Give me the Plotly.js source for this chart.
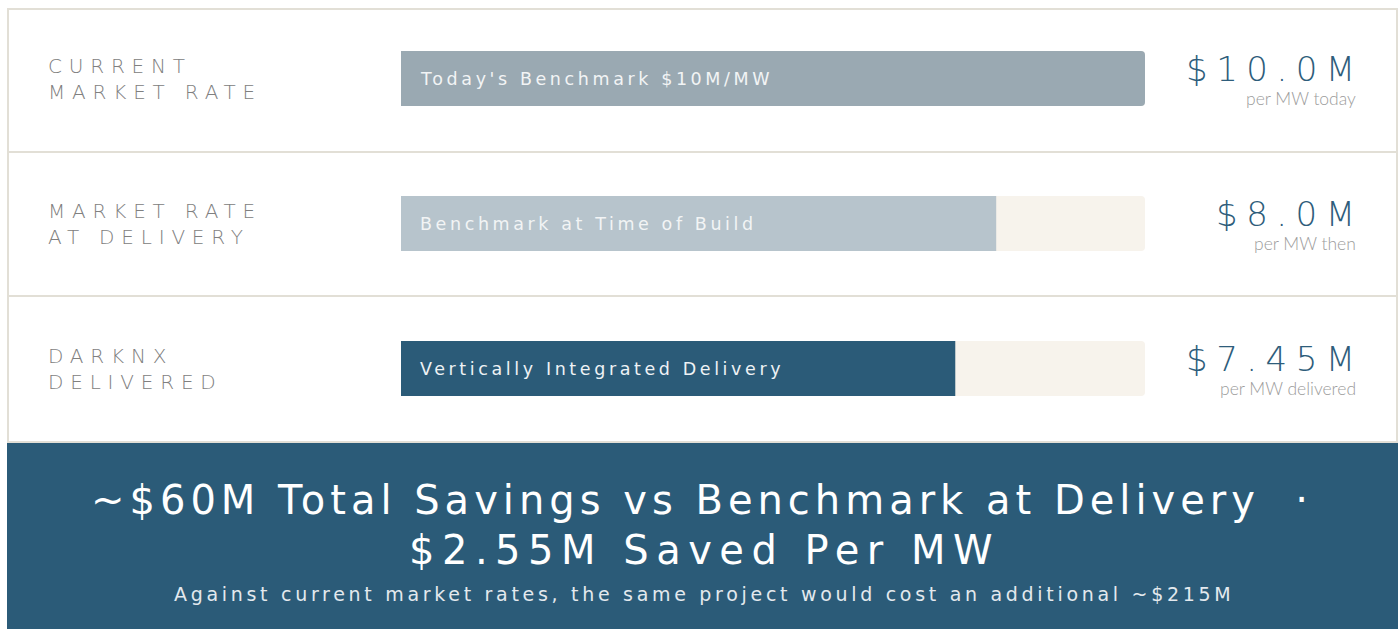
<!DOCTYPE html>
<html>
<head>
<meta charset="utf-8">
<script src="https://cdn.plot.ly/plotly-3.0.1.min.js"></script>
<style>
html,body{margin:0;padding:0;background:#ffffff;}
#chart{width:1400px;height:629px;}
</style>
</head>
<body>
<div id="chart"></div>
<script>
// ---- data ----
const categories = ['CURRENT|MARKET RATE', 'MARKET RATE|AT DELIVERY', 'DARKNX|DELIVERED'];
const costPerMW = [10.0, 8.0, 7.45];
const benchmarkMax = [10, 10, 10];
const barLabels = ["Today's Benchmark $10M/MW", 'Benchmark at Time of Build', 'Vertically Integrated Delivery'];
const valueLabels = ['$10.0M', '$8.0M', '$7.45M'];
const subLabels = ['per MW today', 'per MW then', 'per MW delivered'];
const barColors = ['#9aa9b2', '#b7c4cc', '#2b5b78'];
const headlineLines = ['~$60M Total Savings vs Benchmark at Delivery  \u00b7', '$2.55M Saved Per MW'];
const footnote = 'Against current market rates, the same project would cost an additional ~$215M';

// ---- styling ----
const W = 1400, H = 629;
const px = v => v / W;
const py = v => 1 - v / H;
const WIDE = 'DejaVu Sans, sans-serif';
const sp = (t, s) => '<span style="letter-spacing:' + s + 'px">' + t + '</span>';

const traces = [
  {
    type: 'bar', orientation: 'h',
    x: benchmarkMax, y: categories,
    marker: {color: '#f7f3ec', cornerradius: 4},
    width: 0.38, hoverinfo: 'skip', showlegend: false
  },
  {
    type: 'bar', orientation: 'h',
    x: costPerMW, y: categories,
    marker: {color: barColors, cornerradius: 4},
    width: 0.38, hoverinfo: 'skip', showlegend: false
  }
];

const annotations = [];
categories.forEach((c, i) => {
  const lines = c.split('|');
  annotations.push({
    xref: 'paper', yref: 'y', x: px(46), y: c, xanchor: 'left', yanchor: 'middle',
    text: lines.map(l => sp(l, 6.8)).join('<br>'), showarrow: false, align: 'left',
    font: {family: WIDE, size: 20, color: '#808080', weight: 300}
  });
  annotations.push({
    xref: 'x', yref: 'y', x: 0, y: c, xanchor: 'left', yanchor: 'middle', xshift: 17,
    text: sp(barLabels[i], 3.6), showarrow: false,
    font: {family: WIDE, size: 17.5, color: i === 2 ? '#eef2f5' : '#f2f4f5'}
  });
  annotations.push({
    xref: 'paper', yref: 'y', x: px(1357), y: c, xanchor: 'right', yanchor: 'middle', yshift: 10,
    xshift: 9,
    text: sp(valueLabels[i], 8.5), showarrow: false,
    font: {family: WIDE, size: 34, color: '#2e5d7b', weight: 300}
  });
  annotations.push({
    xref: 'paper', yref: 'y', x: px(1358), y: c, xanchor: 'right', yanchor: 'middle', yshift: -20,
    text: subLabels[i], showarrow: false,
    font: {family: 'Lato, sans-serif', size: 17.5, color: '#9c9c9c', weight: 300}
  });
});

annotations.push({
  xref: 'paper', yref: 'paper', x: px(702), y: py(500), xanchor: 'center', yanchor: 'middle',
  text: sp(headlineLines[0], 5), showarrow: false,
  font: {family: WIDE, size: 40, color: '#ffffff'}
});
annotations.push({
  xref: 'paper', yref: 'paper', x: px(704), y: py(550), xanchor: 'center', yanchor: 'middle',
  text: sp(headlineLines[1], 7.5), showarrow: false,
  font: {family: WIDE, size: 40, color: '#ffffff'}
});
annotations.push({
  xref: 'paper', yref: 'paper', x: px(704), y: py(594), xanchor: 'center', yanchor: 'middle',
  text: sp(footnote, 3.7), showarrow: false,
  font: {family: WIDE, size: 19, color: '#e3e9ee'}
});

const border = '#e2dfd6';
const shapes = [
  {type: 'rect', xref: 'paper', yref: 'paper', x0: px(8), x1: px(1397), y0: py(442), y1: py(9),
   line: {color: border, width: 2}, fillcolor: '#ffffff', layer: 'below'},
  {type: 'line', xref: 'paper', yref: 'paper', x0: px(8), x1: px(1397), y0: py(152), y1: py(152),
   line: {color: border, width: 2}, layer: 'below'},
  {type: 'line', xref: 'paper', yref: 'paper', x0: px(8), x1: px(1397), y0: py(296), y1: py(296),
   line: {color: border, width: 2}, layer: 'below'},
  {type: 'rect', xref: 'paper', yref: 'paper', x0: px(7), x1: px(1398), y0: 0, y1: py(443),
   line: {width: 0}, fillcolor: '#2b5b78', layer: 'below'}
];

const layout = {
  width: W, height: H,
  margin: {l: 0, r: 0, t: 0, b: 0},
  paper_bgcolor: '#ffffff', plot_bgcolor: 'rgba(0,0,0,0)',
  barmode: 'overlay',
  showlegend: false,
  xaxis: {domain: [px(401), px(1145)], range: [0, 10], visible: false, fixedrange: true},
  yaxis: {type: 'category', categoryorder: 'array', categoryarray: categories,
          domain: [py(441), py(6)], range: [2.5, -0.5], visible: false, fixedrange: true},
  annotations: annotations,
  shapes: shapes
};

Plotly.newPlot('chart', traces, layout, {displayModeBar: false, staticPlot: true});
</script>
</body>
</html>
